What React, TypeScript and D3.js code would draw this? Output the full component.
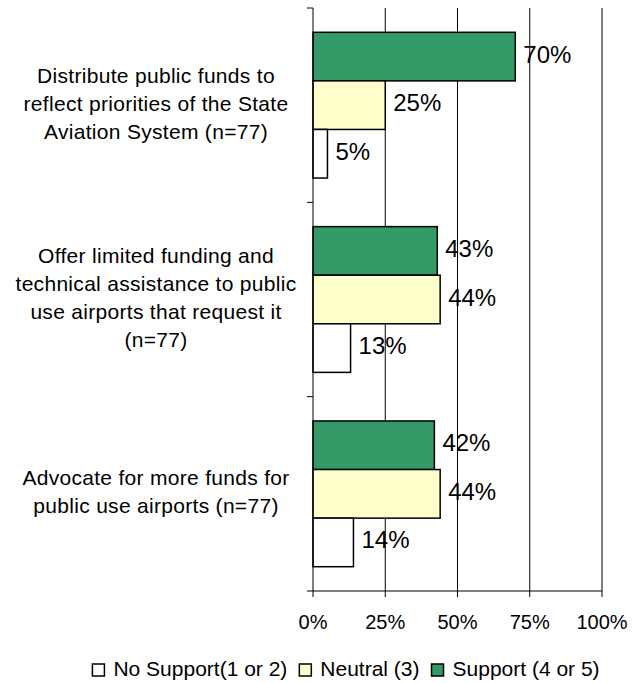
import React from "react";
import * as d3 from "d3";

const categories: string[] = [
  "Distribute public funds to|reflect priorities of the State|Aviation System (n=77)",
  "Offer limited funding and|technical assistance to public|use airports that request it|(n=77)",
  "Advocate for more funds for|public use airports (n=77)",
];
const seriesKeys = ["support", "neutral", "noSupport"];
const seriesNames = ["Support (4 or 5)", "Neutral (3)", "No Support(1 or 2)"];
const seriesColors = ["#339966", "#FFFFCC", "#FFFFFF"];
const support = [70, 43, 42];
const neutral = [25, 44, 44];
const noSupport = [5, 13, 14];
const xTicks = [0, 25, 50, 75, 100];
const legendOrder = [2, 1, 0];

const W = 637;
const H = 683;
const FONT = "'Liberation Sans', Arial, sans-serif";

function measure(text: string, size: number): number {
  const c = document.createElement("canvas").getContext("2d");
  if (!c) return text.length * size * 0.5;
  c.font = `${size}px 'Liberation Sans', Arial`;
  return c.measureText(text).width;
}

export default function App() {
  const values = [support, neutral, noSupport];
  const x = d3.scaleLinear().domain([0, 100]).range([313, 602]);
  const y = d3
    .scaleBand<number>()
    .domain(categories.map((_, i) => i))
    .range([8, 591])
    .padding(0);
  const sub = d3
    .scaleBand<string>()
    .domain(seriesKeys)
    .range([0, y.bandwidth()])
    .paddingInner(0)
    .paddingOuter(0.5);

  const bandEdges = [...categories.map((_, i) => y(i) as number), y.range()[1]];

  // legend layout
  const legFont = 21;
  const sq = 12;
  const gapSqText = 9;
  const gapItems = 12;
  const items = legendOrder.map((k) => ({
    k,
    w: measure(seriesNames[k], legFont),
  }));
  const total =
    items.reduce((s, it) => s + sq + gapSqText + it.w, 0) +
    gapItems * (items.length - 1);
  let lx = 346 - total / 2;
  const legendItems = items.map((it) => {
    const o = { ...it, x: lx };
    lx += sq + gapSqText + it.w + gapItems;
    return o;
  });

  return (
    <svg
      width={W}
      height={H}
      style={{ position: "absolute", left: 0, top: 0, background: "#fff" }}
      fontFamily={FONT}
    >
      <rect x={0} y={0} width={W} height={H} fill="#fff" />
      {/* gridlines */}
      {xTicks.slice(1).map((t) => (
        <line
          key={"g" + t}
          x1={x(t)}
          x2={x(t)}
          y1={y.range()[0]}
          y2={y.range()[1]}
          stroke="#000"
          strokeWidth={1}
        />
      ))}
      {/* bars */}
      {categories.map((_, ci) =>
        seriesKeys.map((s, si) => (
          <rect
            key={ci + s}
            x={x(0)}
            y={(y(ci) as number) + (sub(s) as number)}
            width={x(values[si][ci]) - x(0)}
            height={sub.bandwidth()}
            fill={seriesColors[si]}
            stroke="#000"
            strokeWidth={1.5}
          />
        ))
      )}
      {/* value labels */}
      {categories.map((_, ci) =>
        seriesKeys.map((s, si) => (
          <text
            key={"v" + ci + s}
            x={x(values[si][ci]) + 8}
            y={(y(ci) as number) + (sub(s) as number) + sub.bandwidth() / 2 + 6}
            fontSize={24}
            fill="#000"
          >
            {values[si][ci]}%
          </text>
        ))
      )}
      {/* left axis */}
      <line x1={x(0)} x2={x(0)} y1={y.range()[0]} y2={y.range()[1]} stroke="#000" strokeWidth={1} />
      {bandEdges.map((e, i) => (
        <line key={"lt" + i} x1={x(0) - 6} x2={x(0)} y1={e} y2={e} stroke="#000" strokeWidth={1} />
      ))}
      {/* bottom axis */}
      <line x1={x(0)} x2={x(100)} y1={y.range()[1]} y2={y.range()[1]} stroke="#000" strokeWidth={1} />
      {xTicks.map((t) => (
        <g key={"xt" + t}>
          <line x1={x(t)} x2={x(t)} y1={y.range()[1]} y2={y.range()[1] + 6} stroke="#000" strokeWidth={1} />
          <text x={x(t)} y={628.5} fontSize={20} textAnchor="middle" fill="#000">
            {t}%
          </text>
        </g>
      ))}
      {/* category labels */}
      {categories.map((c, ci) => {
        const lines = c.split("|");
        const cy = (y(ci) as number) + y.bandwidth() / 2 - 2;
        const lh = 28;
        const y0 = cy - ((lines.length - 1) * lh) / 2 + 7.5;
        return (
          <text key={"c" + ci} fontSize={21} textAnchor="middle" fill="#000" letterSpacing={0.3}>
            {lines.map((ln, li) => (
              <tspan key={li} x={156} y={y0 + li * lh}>
                {ln}
              </tspan>
            ))}
          </text>
        );
      })}
      {/* legend */}
      {legendItems.map((it) => (
        <g key={"l" + it.k}>
          <rect
            x={it.x}
            y={664}
            width={sq}
            height={sq}
            fill={seriesColors[it.k]}
            stroke="#000"
            strokeWidth={1.5}
          />
          <text x={it.x + sq + gapSqText} y={676} fontSize={legFont} fill="#000">
            {seriesNames[it.k]}
          </text>
        </g>
      ))}
    </svg>
  );
}
